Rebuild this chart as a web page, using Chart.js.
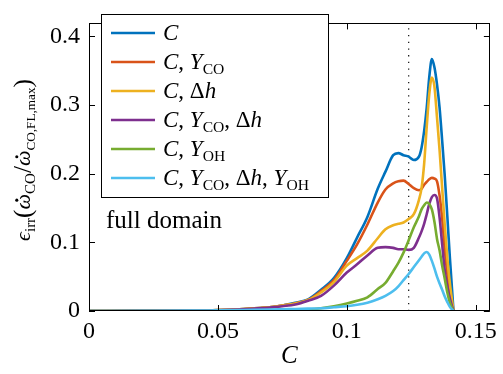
<!DOCTYPE html>
<html>
<head>
<meta charset="utf-8">
<script src="https://cdn.jsdelivr.net/npm/chart.js@4.4.0/dist/chart.umd.min.js"></script>
<style>
  body { margin: 0; background: #fff; }
</style>
</head>
<body>
<canvas id="chart" width="503" height="374"></canvas>
<script>
// progress variable grid and the six error curves
const C = [0, 0.02, 0.04, 0.05, 0.06, 0.07, 0.075, 0.08, 0.085, 0.09, 0.095, 0.1, 0.104, 0.108, 0.112, 0.115, 0.118, 0.12, 0.122, 0.124,
  0.126, 0.128, 0.129, 0.13, 0.131, 0.132, 0.133, 0.134, 0.135, 0.136, 0.137, 0.138, 0.139, 0.14, 0.1414];
const errC = [0, 0.0003, 0.0007, 0.0014, 0.003, 0.0055, 0.008, 0.012, 0.017, 0.031, 0.048, 0.077, 0.107, 0.137, 0.178, 0.203, 0.227, 0.230, 0.227, 0.225,
  0.220, 0.225, 0.238, 0.262, 0.296, 0.341, 0.367, 0.355, 0.33, 0.296, 0.248, 0.197, 0.138, 0.077, 0];
const errCYco = [0, 0.0003, 0.0007, 0.0014, 0.003, 0.0055, 0.008, 0.011, 0.016, 0.029, 0.045, 0.073, 0.097, 0.126, 0.158, 0.177, 0.186, 0.189, 0.190, 0.185,
  0.179, 0.176, 0.178, 0.184, 0.188, 0.192, 0.194, 0.193, 0.189, 0.168, 0.135, 0.09, 0.055, 0.025, 0];
const errCdh = [0, 0.0003, 0.0007, 0.0014, 0.003, 0.0055, 0.008, 0.011, 0.016, 0.027, 0.042, 0.066, 0.077, 0.088, 0.106, 0.119, 0.125, 0.127, 0.129, 0.134,
  0.141, 0.162, 0.179, 0.214, 0.268, 0.316, 0.340, 0.327, 0.282, 0.234, 0.179, 0.125, 0.077, 0.040, 0];
const errCYcoDh = [0, 0.0002, 0.0005, 0.001, 0.0025, 0.005, 0.007, 0.0095, 0.015, 0.022, 0.037, 0.056, 0.068, 0.081, 0.092, 0.093, 0.092, 0.090, 0.090, 0.089,
  0.092, 0.107, 0.116, 0.127, 0.141, 0.156, 0.166, 0.169, 0.164, 0.136, 0.097, 0.059, 0.036, 0.018, 0];
const errCYoh = [0, 0, 0, 0, 0.0002, 0.0004, 0.0006, 0.001, 0.002, 0.004, 0.007, 0.011, 0.015, 0.02, 0.032, 0.041, 0.058, 0.07, 0.085, 0.103,
  0.122, 0.138, 0.148, 0.154, 0.158, 0.156, 0.148, 0.13, 0.105, 0.088, 0.066, 0.047, 0.027, 0.012, 0];
const errAll = [0, 0.0002, 0.0005, 0.001, 0.0015, 0.002, 0.0025, 0.003, 0.0035, 0.004, 0.0055, 0.007, 0.009, 0.012, 0.017, 0.022, 0.029, 0.036, 0.045, 0.054,
  0.064, 0.074, 0.079, 0.084, 0.086, 0.082, 0.073, 0.062, 0.05, 0.04, 0.031, 0.021, 0.013, 0.006, 0];

const xTicks = [0, 0.05, 0.1, 0.15];
const yTicks = [0, 0.1, 0.2, 0.3, 0.4];
const xMax = 0.1555;
const yMax = 0.419;
const markC = 0.124; // dotted vertical marker

const colors = ['#0072BD', '#D95319', '#EDB120', '#7E2F8E', '#77AC30', '#4DBEEE'];
const series = [errC, errCYco, errCdh, errCYcoDh, errCYoh, errAll];

// legend labels as rich text pieces: it = italic, sub = subscript
const legendLabels = [
  [{t: 'C', it: 1}],
  [{t: 'C', it: 1}, {t: ', '}, {t: 'Y', it: 1}, {t: 'CO', sub: 1}],
  [{t: 'C', it: 1}, {t: ', '}, {t: 'Δ'}, {t: 'h', it: 1}],
  [{t: 'C', it: 1}, {t: ', '}, {t: 'Y', it: 1}, {t: 'CO', sub: 1}, {t: ', '}, {t: 'Δ'}, {t: 'h', it: 1}],
  [{t: 'C', it: 1}, {t: ', '}, {t: 'Y', it: 1}, {t: 'OH', sub: 1}],
  [{t: 'C', it: 1}, {t: ', '}, {t: 'Y', it: 1}, {t: 'CO', sub: 1}, {t: ', '}, {t: 'Δ'}, {t: 'h', it: 1}, {t: ', '}, {t: 'Y', it: 1}, {t: 'OH', sub: 1}]
];
const yLabel = [
  {t: 'ϵ', it: 1}, {t: 'irr', sub: 1}, {t: '(', big: 1}, {t: 'ω', it: 1, dot: 1}, {t: 'CO', sub: 1}, {t: '/', big: 1},
  {t: 'ω', it: 1, dot: 1}, {t: 'CO,FL,max', sub: 1, small: 1}, {t: ')', big: 1}
];

const FONT = '"Liberation Serif", serif';

function segFont(s, size) {
  const sz = s.sub ? size * (s.small ? 0.6 : 0.68) : (s.big ? size * 1.15 : size);
  return (s.it ? 'italic ' : '') + sz.toFixed(1) + 'px ' + FONT;
}

function richWidth(ctx, segs, size) {
  let w = 0;
  segs.forEach(s => { ctx.font = segFont(s, size); w += ctx.measureText(s.t).width; });
  return w;
}

function drawRich(ctx, segs, x, y, size) {
  ctx.textBaseline = 'alphabetic';
  ctx.textAlign = 'left';
  segs.forEach(s => {
    ctx.font = segFont(s, size);
    const dy = s.sub ? size * 0.22 : (s.big ? size * 0.06 : 0);
    ctx.fillText(s.t, x, y + dy);
    const w = ctx.measureText(s.t).width;
    if (s.dot) {
      ctx.beginPath();
      ctx.arc(x + w * 0.6, y - size * 0.6, size * 0.07, 0, Math.PI * 2);
      ctx.fill();
    }
    x += w;
  });
}

const datasets = series.map((vals, i) => ({
  data: C.map((c, k) => ({x: c, y: vals[k]})),
  borderColor: colors[i],
  borderWidth: 2.6,
  pointRadius: 0,
  cubicInterpolationMode: 'monotone',
  order: 6 - i
}));
datasets.push({
  data: [{x: markC, y: 0}, {x: markC, y: yMax}],
  borderColor: '#222',
  borderWidth: 1.3,
  borderDash: [1.3, 5.4],
  pointRadius: 0,
  order: 10
});

const decorations = {
  id: 'decorations',
  afterDraw(chart) {
    const {ctx, chartArea: a, scales: {x, y}} = chart;
    ctx.save();
    ctx.strokeStyle = '#000';
    ctx.lineWidth = 1;
    // axes box
    ctx.strokeRect(Math.round(a.left) + 0.5, Math.round(a.top) + 0.5,
      Math.round(a.right - a.left) - 1, Math.round(a.bottom - a.top) - 1);
    // inward ticks on all four sides
    ctx.beginPath();
    xTicks.forEach(v => {
      const px = Math.round(x.getPixelForValue(v)) + 0.5;
      ctx.moveTo(px, a.bottom); ctx.lineTo(px, a.bottom - 6);
      ctx.moveTo(px, a.top); ctx.lineTo(px, a.top + 6);
    });
    yTicks.forEach(v => {
      const py = Math.round(y.getPixelForValue(v)) + 0.5;
      ctx.moveTo(a.left, py); ctx.lineTo(a.left + 6, py);
      ctx.moveTo(a.right, py); ctx.lineTo(a.right - 6, py);
    });
    ctx.stroke();

    // legend
    ctx.fillStyle = '#fff';
    ctx.fillRect(101, 14, 227, 183);
    ctx.strokeRect(101.5, 14.5, 227, 183);
    legendLabels.forEach((segs, i) => {
      const cy = 33 + i * 29;
      ctx.strokeStyle = colors[i];
      ctx.lineWidth = 2.6;
      ctx.beginPath();
      ctx.moveTo(111, cy); ctx.lineTo(155, cy);
      ctx.stroke();
      ctx.fillStyle = '#000';
      drawRich(ctx, segs, 163, cy + 7, 23);
    });

    // annotation
    ctx.fillStyle = '#000';
    ctx.font = '25px ' + FONT;
    ctx.textAlign = 'left';
    ctx.textBaseline = 'alphabetic';
    ctx.fillText('full domain', 106, 228);

    // y axis title with subscripts
    ctx.translate(30, 160);
    ctx.rotate(-Math.PI / 2);
    const w = richWidth(ctx, yLabel, 22);
    drawRich(ctx, yLabel, -w / 2, 0, 22);
    ctx.restore();
  }
};

new Chart(document.getElementById('chart'), {
  type: 'line',
  data: {datasets},
  options: {
    responsive: false,
    animation: false,
    layout: {padding: {left: 0, top: 5, right: 9, bottom: 0}},
    plugins: {legend: {display: false}, tooltip: {enabled: false}},
    scales: {
      x: {
        type: 'linear',
        min: 0,
        max: xMax,
        afterBuildTicks: s => { s.ticks = xTicks.map(v => ({value: v})); },
        afterFit: s => { s.height = 63; },
        grid: {display: false, drawTicks: false},
        border: {display: false},
        ticks: {
          color: '#000',
          font: {family: FONT, size: 24},
          padding: 6,
          maxRotation: 0,
          callback: v => String(v)
        },
        title: {
          display: true,
          text: 'C',
          color: '#000',
          font: {family: FONT, size: 25, style: 'italic'},
          padding: {top: 0, bottom: 3}
        }
      },
      y: {
        min: 0,
        max: yMax,
        afterBuildTicks: s => { s.ticks = yTicks.map(v => ({value: v})); },
        afterFit: s => { s.width = 89; },
        grid: {display: false, drawTicks: false},
        border: {display: false},
        ticks: {
          color: '#000',
          font: {family: FONT, size: 24},
          padding: 9,
          callback: v => String(v)
        }
      }
    }
  },
  plugins: [decorations]
});
</script>
</body>
</html>
